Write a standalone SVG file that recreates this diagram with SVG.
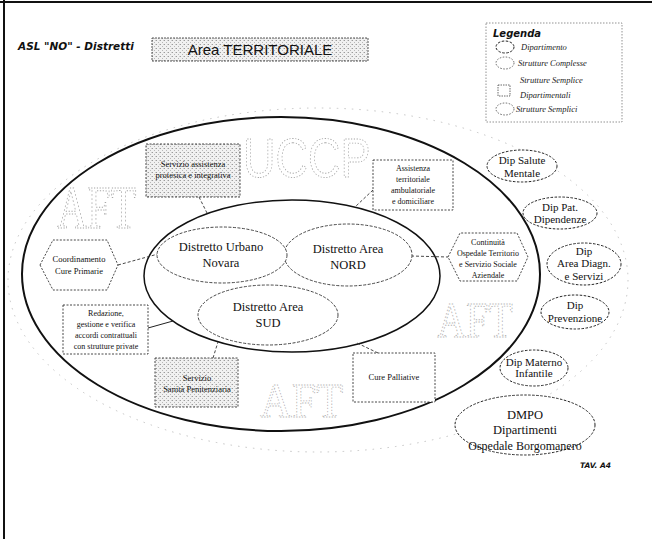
<svg xmlns="http://www.w3.org/2000/svg" width="652" height="539" viewBox="0 0 652 539">
  <defs>
    <!-- dithered light grey used for shaded boxes -->
    <pattern id="grain" width="4" height="4" patternUnits="userSpaceOnUse">
      <rect width="4" height="4" fill="#f1f1f1"/>
      <rect x="0" y="0" width="1" height="1" fill="#9c9c9c"/>
      <rect x="2" y="2" width="1" height="1" fill="#b8b8b8"/>
      <rect x="3" y="0" width="1" height="1" fill="#cfcfcf"/>
    </pattern>
  </defs>
  <style>
    .serif{font-family:"Liberation Serif","Times New Roman",serif;fill:#111;text-anchor:middle}
    .dist{font-size:12.5px}
    .dep{font-size:11px}
    .small{font-size:8.5px}
    .tiny{font-size:8px}
    .leg{font-family:"Liberation Serif","Times New Roman",serif;font-style:italic;font-size:8.5px;fill:#222}
    .ring{fill:none;stroke:#111}
    .distShape{fill:#fff;stroke:#333;stroke-width:0.9;stroke-dasharray:3 1.5}
    .depShape{fill:#fff;stroke:#222;stroke-width:1;stroke-dasharray:2.5 1.5}
    .box{stroke:#333;stroke-width:0.9;stroke-dasharray:2 1.5}
    .wm{fill:none;stroke:#a8a8a8;stroke-width:0.7;stroke-dasharray:1.2 1.6}
    .link{fill:none;stroke:#333;stroke-width:0.9;stroke-dasharray:3 2}
  </style>

  <!-- page frame (top and left edges) -->
  <line x1="0" y1="2" x2="652" y2="2" stroke="#111" stroke-width="2"/>
  <line x1="4" y1="0" x2="4" y2="539" stroke="#111" stroke-width="2"/>

  <!-- header -->
  <g id="header">
    <text x="18" y="50" font-family="DejaVu Sans, sans-serif" font-style="italic" font-weight="bold" font-size="10.5" fill="#111">ASL "NO" - Distretti</text>
  </g>
  <g id="title">
    <rect x="152" y="38" width="216" height="23" fill="url(#grain)" stroke="#444" stroke-width="0.9" stroke-dasharray="2 1"/>
    <text x="260" y="55" font-family="Liberation Sans, Arial, sans-serif" font-size="15" text-anchor="middle" fill="#111">Area TERRITORIALE</text>
  </g>

  <!-- legend -->
  <g id="legend">
    <rect x="486" y="23" width="136" height="99" fill="#fff" stroke="#777" stroke-width="0.8" stroke-dasharray="1.5 1.5"/>
    <text x="493" y="37" font-family="DejaVu Sans, sans-serif" font-style="italic" font-weight="bold" font-size="10" fill="#111">Legenda</text>
    <ellipse cx="505" cy="47" rx="9" ry="6" class="depShape"/>
    <text x="521" y="50" class="leg">Dipartimento</text>
    <ellipse cx="505" cy="63" rx="9" ry="6" fill="#fff" stroke="#444" stroke-width="0.8" stroke-dasharray="1.5 1.5"/>
    <text x="518" y="66" class="leg">Strutture Complesse</text>
    <rect x="498" y="85" width="12" height="11" fill="#fff" stroke="#444" stroke-width="0.8" stroke-dasharray="1.5 1"/>
    <text x="520" y="83" class="leg">Strutture Semplice</text>
    <text x="520" y="98" class="leg">Dipartimentali</text>
    <ellipse cx="505" cy="109" rx="9" ry="6" fill="#fff" stroke="#444" stroke-width="0.8" stroke-dasharray="1.5 1.5"/>
    <text x="516" y="112" class="leg">Strutture Semplici</text>
  </g>

  <!-- faint halo around the territorial area -->
  <ellipse cx="318" cy="280" rx="310" ry="172" fill="none" stroke="#bdbdbd" stroke-width="0.9" stroke-dasharray="1.5 6"/>

  <!-- territorial area -->
  <g id="area">
    <ellipse cx="281" cy="274" rx="259" ry="157" class="ring" stroke-width="2"/>
  </g>

  <!-- background labels, stretched vertically -->
  <g id="watermarks" font-family="Liberation Serif, serif">
    <text transform="translate(243,177) scale(1,1.25)" font-family="Liberation Sans, Arial, sans-serif" font-size="45" class="wm">UCCP</text>
    <text transform="translate(57,228) scale(1,1.45)" font-size="42" class="wm">AFT</text>
    <text transform="translate(437,337) scale(1,1.28)" font-size="40" class="wm">AFT</text>
    <text transform="translate(260,417) scale(1,1.1)" font-size="44" class="wm">AFT</text>
  </g>

  <!-- ring holding the three districts -->
  <g id="districts-ring">
    <ellipse cx="292" cy="276" rx="148" ry="76" class="ring" stroke-width="1.5"/>
  </g>

  <!-- connectors -->
  <g id="connectors">
    <line x1="199" y1="197" x2="207" y2="213" class="link"/>
    <line x1="373" y1="190" x2="355" y2="207" class="link"/>
    <line x1="118" y1="265" x2="158" y2="254" class="link"/>
    <line x1="411" y1="256" x2="448" y2="257" class="link"/>
    <line x1="148" y1="328" x2="173" y2="321" fill="none" stroke="#222" stroke-width="1"/>
    <line x1="213" y1="358" x2="218" y2="342" class="link"/>
    <line x1="378" y1="353" x2="357" y2="343" class="link"/>
  </g>

  <!-- districts -->
  <g id="distretto-sud">
    <ellipse cx="268" cy="315" rx="70" ry="30" class="distShape"/>
    <text x="268" y="311" class="serif dist">Distretto Area</text>
    <text x="268" y="327" class="serif dist">SUD</text>
  </g>
  <g id="distretto-nord">
    <ellipse cx="348" cy="255" rx="64" ry="31" class="distShape"/>
    <text x="348" y="253" class="serif dist">Distretto Area</text>
    <text x="348" y="269" class="serif dist">NORD</text>
  </g>
  <g id="distretto-urbano">
    <ellipse cx="222" cy="255" rx="65" ry="28" class="distShape"/>
    <text x="221" y="251" class="serif dist">Distretto Urbano</text>
    <text x="221" y="267" class="serif dist">Novara</text>
  </g>

  <!-- services inside the area -->
  <g id="protesica">
    <rect x="146" y="144" width="94" height="53" fill="url(#grain)" class="box"/>
    <text x="193" y="167" class="serif small">Servizio assistenza</text>
    <text x="193" y="178" class="serif small">protesica e integrativa</text>
  </g>
  <g id="assistenza">
    <rect x="373" y="160" width="80" height="50" fill="#fff" class="box"/>
    <text x="413" y="171" class="serif tiny">Assistenza</text>
    <text x="413" y="182" class="serif tiny">territoriale</text>
    <text x="413" y="193" class="serif tiny">ambulatoriale</text>
    <text x="413" y="204" class="serif tiny">e domiciliare</text>
  </g>
  <g id="cure-primarie">
    <polygon points="40,265 53,240 107,240 118,265 107,290 53,290" fill="#fff" class="box"/>
    <text x="79" y="262" class="serif small">Coordinamento</text>
    <text x="79" y="274" class="serif small">Cure Primarie</text>
  </g>
  <g id="continuita">
    <polygon points="448,257 460,233 517,233 528,257 517,281 460,281" fill="#fff" class="box"/>
    <text x="488" y="245" class="serif tiny">Continuità</text>
    <text x="488" y="256" class="serif tiny">Ospedale Territorio</text>
    <text x="488" y="267" class="serif tiny">e Servizio Sociale</text>
    <text x="488" y="278" class="serif tiny">Aziendale</text>
  </g>
  <g id="accordi">
    <rect x="63" y="305" width="85" height="49" fill="#fff" class="box"/>
    <text x="106" y="316" class="serif tiny">Redazione,</text>
    <text x="106" y="327" class="serif tiny">gestione e verifica</text>
    <text x="106" y="338" class="serif tiny">accordi contrattuali</text>
    <text x="106" y="349" class="serif tiny">con strutture private</text>
  </g>
  <g id="penitenziaria">
    <rect x="155" y="358" width="83" height="49" fill="url(#grain)" class="box"/>
    <text x="197" y="381" class="serif small">Servizio</text>
    <text x="197" y="392" class="serif small">Sanità Penitenziaria</text>
  </g>
  <g id="palliative">
    <rect x="353" y="353" width="82" height="49" fill="#fff" class="box"/>
    <text x="394" y="380" class="serif small">Cure Palliative</text>
  </g>

  <!-- departments -->
  <g id="dip-salute-mentale">
    <ellipse cx="522" cy="166" rx="35" ry="16" class="depShape"/>
    <text x="522" y="164" class="serif dep">Dip Salute</text>
    <text x="522" y="177" class="serif dep">Mentale</text>
  </g>
  <g id="dip-dipendenze">
    <ellipse cx="560" cy="213" rx="37" ry="16" class="depShape"/>
    <text x="560" y="211" class="serif dep">Dip Pat.</text>
    <text x="560" y="223" class="serif dep">Dipendenze</text>
  </g>
  <g id="dip-diagnosi">
    <ellipse cx="584" cy="264" rx="37" ry="21" class="depShape"/>
    <text x="584" y="255" class="serif dep">Dip</text>
    <text x="584" y="267" class="serif dep">Area Diagn.</text>
    <text x="584" y="280" class="serif dep">e Servizi</text>
  </g>
  <g id="dip-prevenzione">
    <ellipse cx="575" cy="312" rx="34" ry="17" class="depShape"/>
    <text x="575" y="309" class="serif dep">Dip</text>
    <text x="575" y="322" class="serif dep">Prevenzione</text>
  </g>
  <g id="dip-materno">
    <ellipse cx="534" cy="368" rx="34" ry="18" class="depShape"/>
    <text x="534" y="366" class="serif dep">Dip Materno</text>
    <text x="534" y="377" class="serif dep">Infantile</text>
  </g>
  <g id="dmpo">
    <ellipse cx="525" cy="425" rx="70" ry="30" class="depShape"/>
    <text x="525" y="419" class="serif" font-size="12.5">DMPO</text>
    <text x="525" y="434" class="serif" font-size="12.5">Dipartimenti</text>
    <text x="525" y="450" class="serif" font-size="12">Ospedale Borgomanero</text>
  </g>

  <text x="580" y="468" font-family="DejaVu Sans, sans-serif" font-style="italic" font-weight="bold" font-size="7.5" fill="#111">TAV. A4</text>
</svg>
